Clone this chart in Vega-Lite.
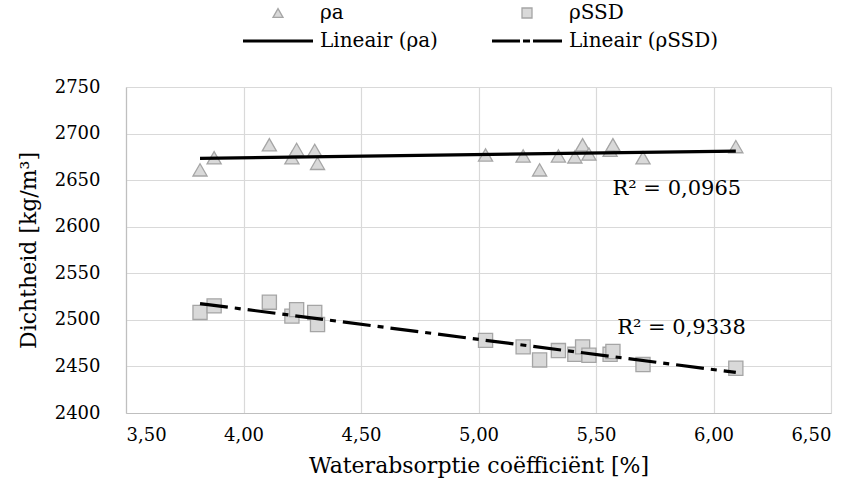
{
  "$schema": "https://vega.github.io/schema/vega-lite/v6.json",
  "width": 705,
  "height": 326,
  "autosize": {"type": "none"},
  "padding": {"left": 126, "top": 87, "right": 24, "bottom": 82},
  "background": "white",
  "config": {
    "font": "DejaVu Serif",
    "view": {"stroke": null},
    "text": {"font": "DejaVu Serif"},
    "legend": {"labelFont": "DejaVu Serif"},
    "axis": {
      "labelFont": "DejaVu Serif",
      "titleFont": "DejaVu Serif",
      "labelFontSize": 18,
      "titleFontSize": 22,
      "labelColor": "#000",
      "titleColor": "#000",
      "titleFontWeight": "normal",
      "gridColor": "#d9d9d9",
      "gridWidth": 1.2,
      "domainColor": "#bfbfbf",
      "domainWidth": 1.2,
      "ticks": false
    }
  },
  "data": {
    "values": [
      {"w": 3.815, "rho": 2661, "series": "ρa"},
      {"w": 3.875, "rho": 2674, "series": "ρa"},
      {"w": 4.11, "rho": 2688, "series": "ρa"},
      {"w": 4.206, "rho": 2674, "series": "ρa"},
      {"w": 4.226, "rho": 2683, "series": "ρa"},
      {"w": 4.303, "rho": 2682, "series": "ρa"},
      {"w": 4.315, "rho": 2668, "series": "ρa"},
      {"w": 5.03, "rho": 2677, "series": "ρa"},
      {"w": 5.19, "rho": 2676, "series": "ρa"},
      {"w": 5.26, "rho": 2661, "series": "ρa"},
      {"w": 5.34, "rho": 2676, "series": "ρa"},
      {"w": 5.41, "rho": 2675, "series": "ρa"},
      {"w": 5.443, "rho": 2688, "series": "ρa"},
      {"w": 5.47, "rho": 2678, "series": "ρa"},
      {"w": 5.56, "rho": 2682, "series": "ρa"},
      {"w": 5.572, "rho": 2688, "series": "ρa"},
      {"w": 5.70, "rho": 2674, "series": "ρa"},
      {"w": 6.095, "rho": 2686, "series": "ρa"},
      {"w": 3.815, "rho": 2508, "series": "ρSSD"},
      {"w": 3.875, "rho": 2515, "series": "ρSSD"},
      {"w": 4.11, "rho": 2519, "series": "ρSSD"},
      {"w": 4.206, "rho": 2504, "series": "ρSSD"},
      {"w": 4.226, "rho": 2511, "series": "ρSSD"},
      {"w": 4.303, "rho": 2508, "series": "ρSSD"},
      {"w": 4.315, "rho": 2495, "series": "ρSSD"},
      {"w": 5.03, "rho": 2478, "series": "ρSSD"},
      {"w": 5.19, "rho": 2471, "series": "ρSSD"},
      {"w": 5.26, "rho": 2457, "series": "ρSSD"},
      {"w": 5.34, "rho": 2467, "series": "ρSSD"},
      {"w": 5.41, "rho": 2463, "series": "ρSSD"},
      {"w": 5.443, "rho": 2471, "series": "ρSSD"},
      {"w": 5.47, "rho": 2462, "series": "ρSSD"},
      {"w": 5.56, "rho": 2463, "series": "ρSSD"},
      {"w": 5.572, "rho": 2466, "series": "ρSSD"},
      {"w": 5.70, "rho": 2452, "series": "ρSSD"},
      {"w": 6.095, "rho": 2448, "series": "ρSSD"}
    ]
  },
  "layer": [
    {
      "mark": {"type": "point", "size": 200, "opacity": 1},
      "encoding": {
        "x": {
          "field": "w",
          "type": "quantitative",
          "scale": {"domain": [3.5, 6.5], "nice": false, "zero": false},
          "axis": {
            "values": [3.5, 4, 4.5, 5, 5.5, 6, 6.5],
            "labelExpr": "replace(format(datum.value, '.2f'), '.', ',')",
            "title": "Waterabsorptie coëfficiënt [%]",
            "labelPadding": 13,
            "titlePadding": 11
          }
        },
        "y": {
          "field": "rho",
          "type": "quantitative",
          "scale": {"domain": [2400, 2750], "nice": false, "zero": false},
          "axis": {
            "values": [2400, 2450, 2500, 2550, 2600, 2650, 2700, 2750],
            "format": "d",
            "title": "Dichtheid [kg/m³]",
            "labelPadding": 26,
            "titlePadding": 14
          }
        },
        "shape": {
          "field": "series",
          "type": "nominal",
          "scale": {
            "domain": ["ρa", "ρSSD", "Lineair (ρa)", "Lineair (ρSSD)"],
            "range": ["triangle-up", "square", "M-7,0H7", "M-7,0H-1.4M-0.8,0H0.6M1.2,0H7"]
          },
          "legend": {
            "orient": "none",
            "legendX": 142,
            "legendY": -84,
            "direction": "horizontal",
            "columns": 2,
            "title": null,
            "symbolSize": 100,
            "labelOffset": 32,
            "columnPadding": 48,
            "rowPadding": 8,
            "labelFontSize": 20,
            "labelFont": "DejaVu Serif",
            "labelColor": "#000",
            "labelLimit": 300
          }
        },
        "fill": {
          "field": "series",
          "type": "nominal",
          "scale": {
            "domain": ["ρa", "ρSSD", "Lineair (ρa)", "Lineair (ρSSD)"],
            "range": ["#d9d9d9", "#d9d9d9", "transparent", "transparent"]
          }
        },
        "stroke": {
          "field": "series",
          "type": "nominal",
          "scale": {
            "domain": ["ρa", "ρSSD", "Lineair (ρa)", "Lineair (ρSSD)"],
            "range": ["#a5a5a5", "#a5a5a5", "#000000", "#000000"]
          }
        },
        "strokeWidth": {
          "field": "series",
          "type": "nominal",
          "scale": {
            "type": "ordinal",
            "domain": ["ρa", "ρSSD", "Lineair (ρa)", "Lineair (ρSSD)"],
            "range": [1.3, 1.3, 3, 3]
          }
        }
      }
    },
    {
      "transform": [
        {"filter": "datum.series === 'ρa'"},
        {"regression": "rho", "on": "w"}
      ],
      "mark": {"type": "line", "color": "#000000", "strokeWidth": 3.2},
      "encoding": {
        "x": {"field": "w", "type": "quantitative"},
        "y": {"field": "rho", "type": "quantitative"}
      }
    },
    {
      "transform": [
        {"filter": "datum.series === 'ρSSD'"},
        {"regression": "rho", "on": "w"}
      ],
      "mark": {"type": "line", "color": "#000000", "strokeWidth": 3.2, "strokeDash": [28, 7, 6, 7]},
      "encoding": {
        "x": {"field": "w", "type": "quantitative"},
        "y": {"field": "rho", "type": "quantitative"}
      }
    },
    {
      "data": {
        "values": [
          {"w": 5.57, "rho": 2640, "label": "R² = 0,0965"},
          {"w": 5.59, "rho": 2491, "label": "R² = 0,9338"}
        ]
      },
      "mark": {"type": "text", "align": "left", "baseline": "middle", "fontSize": 21, "font": "DejaVu Serif", "color": "#000000"},
      "encoding": {
        "x": {"field": "w", "type": "quantitative"},
        "y": {"field": "rho", "type": "quantitative"},
        "text": {"field": "label"}
      }
    }
  ]
}
